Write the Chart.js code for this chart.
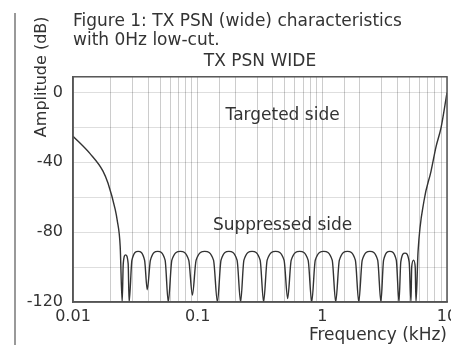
<!DOCTYPE html>
<html lang="en">
<head>
  <meta charset="UTF-8">
  <title>TX PSN WIDE</title>
  <script src="https://cdn.jsdelivr.net/npm/chart.js"></script>
  <style>
    html, body {
      margin: 0;
      padding: 0;
      background: #fff;
      overflow: hidden;
    }
    #wrap {
      width: 465px;
      height: 345px;
    }
  </style>
</head>
<body>
  <div id="wrap"><canvas id="psnChart" width="465" height="345"></canvas></div>

  <script>
    // response of the wide PSN, frequency in kHz, amplitude in dB
    const freqKHz = [
      0.01, 0.0137, 0.0174, 0.0191, 0.0218, 0.0226, 0.0239,
      0.0248, 0.0253, 0.0264, 0.0277,
      0.0282, 0.0297, 0.0333, 0.0375,
      0.0394, 0.0418, 0.0478, 0.0548,
      0.0581, 0.0621, 0.0726, 0.0848,
      0.0907, 0.0972, 0.114, 0.134,
      0.144, 0.154, 0.178, 0.207,
      0.221, 0.235, 0.273, 0.317,
      0.338, 0.361, 0.422, 0.493,
      0.527, 0.563, 0.658, 0.769,
      0.822, 0.878, 1.026, 1.20,
      1.28, 1.37, 1.59, 1.84,
      1.96, 2.09, 2.41, 2.78,
      2.95, 3.10, 3.48, 3.92,
      4.12, 4.26, 4.60, 4.97,
      5.14, 5.21, 5.39, 5.56,
      5.64, 5.86, 6.54, 7.45, 8.17, 8.97, 10
    ];
    const amplitudeDb = [
      -25, -35, -45, -52, -67, -73, -88,
      -120, -98, -93, -98,
      -120, -96, -91, -96,
      -113, -96, -91, -96,
      -120, -96, -91, -96,
      -116, -96, -91, -96,
      -120, -96, -91, -96,
      -120, -96, -91, -96,
      -120, -96, -91, -96,
      -118, -96, -91, -96,
      -120, -96, -91, -96,
      -120, -96, -91, -96,
      -120, -96, -91, -96,
      -120, -96, -91, -96,
      -120, -97, -92, -97,
      -120, -100, -96, -100,
      -120, -91, -62, -45, -31, -20, 0
    ];

    const freqTicks = [0.01, 0.1, 1, 10];
    const ampTicks = [0, -40, -80, -120];

    const noteText = ['Targeted side', 'Suppressed side'];
    const noteFreq = [0.48, 0.48];
    const noteDb = [-13, -76];

    const FONT = '"DejaVu Sans", sans-serif';
    const INK = '#333';
    Chart.defaults.font.family = FONT;
    Chart.defaults.font.size = 16;
    Chart.defaults.color = INK;

    const points = freqKHz.map((f, i) => ({ x: f, y: amplitudeDb[i] }));

    // frame, page rule, in-plot notes and the y title
    const decorations = {
      id: 'decorations',
      afterDraw(chart) {
        const { ctx, chartArea: a, scales: { x, y } } = chart;
        ctx.save();

        ctx.strokeStyle = '#555';
        ctx.lineWidth = 1.5;
        ctx.strokeRect(a.left, a.top, a.right - a.left, a.bottom - a.top);

        ctx.strokeStyle = '#999';
        ctx.lineWidth = 2;
        ctx.beginPath();
        ctx.moveTo(15, 13);
        ctx.lineTo(15, chart.height);
        ctx.stroke();

        ctx.fillStyle = INK;
        ctx.font = '17px ' + FONT;
        ctx.textAlign = 'center';
        ctx.textBaseline = 'middle';
        noteText.forEach((t, i) => {
          ctx.fillText(t, x.getPixelForValue(noteFreq[i]), y.getPixelForValue(noteDb[i]));
        });

        ctx.font = '16px ' + FONT;
        ctx.translate(a.left - 31, a.top);
        ctx.rotate(-Math.PI / 2);
        ctx.fillText('Amplitude (dB)', 0, 0);
        ctx.restore();
      }
    };

    new Chart(document.getElementById('psnChart'), {
      type: 'line',
      data: {
        datasets: [{
          data: points,
          borderColor: INK,
          borderWidth: 1.4,
          pointRadius: 0,
          fill: false,
          cubicInterpolationMode: 'monotone'
        }]
      },
      options: {
        responsive: false,
        animation: false,
        devicePixelRatio: 1,
        layout: { padding: { left: 0, right: 18, top: 0, bottom: 0 } },
        plugins: {
          legend: { display: false },
          tooltip: { enabled: false },
          title: {
            display: true,
            text: ['Figure 1: TX PSN (wide) characteristics', 'with 0Hz low-cut.'],
            align: 'start',
            fullSize: false,
            color: INK,
            font: { size: 17, weight: 'normal', lineHeight: 1.12 },
            padding: { top: 12.5, bottom: 1 }
          },
          subtitle: {
            display: true,
            text: 'TX PSN WIDE',
            fullSize: false,
            color: INK,
            font: { size: 17, lineHeight: 1.1 },
            padding: { top: 1, bottom: 5.5 }
          }
        },
        scales: {
          x: {
            type: 'logarithmic',
            min: 0.01,
            max: 10,
            afterFit: (s) => { s.height = 43; },
            border: { color: '#555', width: 1.5 },
            grid: { color: 'rgba(0,0,0,0.2)', drawTicks: false },
            ticks: {
              autoSkip: false,
              maxRotation: 0,
              padding: 5,
              font: { size: 16, lineHeight: 1.2 },
              callback: (v) => freqTicks.some(t => Math.abs(t - v) < t * 1e-6) ? String(v) : ''
            },
            title: {
              display: true,
              text: 'Frequency (kHz)',
              align: 'end',
              font: { size: 17, lineHeight: 1.1 },
              padding: { top: 0, bottom: 0 }
            }
          },
          y: {
            min: -120,
            max: 9,
            afterFit: (s) => { s.width = 73; },
            border: { color: '#555', width: 1.5 },
            grid: { color: 'rgba(0,0,0,0.13)', drawTicks: false },
            ticks: {
              stepSize: 10,
              padding: 10,
              callback: (v) => ampTicks.includes(v) ? String(v) : ''
            }
          }
        }
      },
      plugins: [decorations]
    });
  </script>
</body>
</html>
